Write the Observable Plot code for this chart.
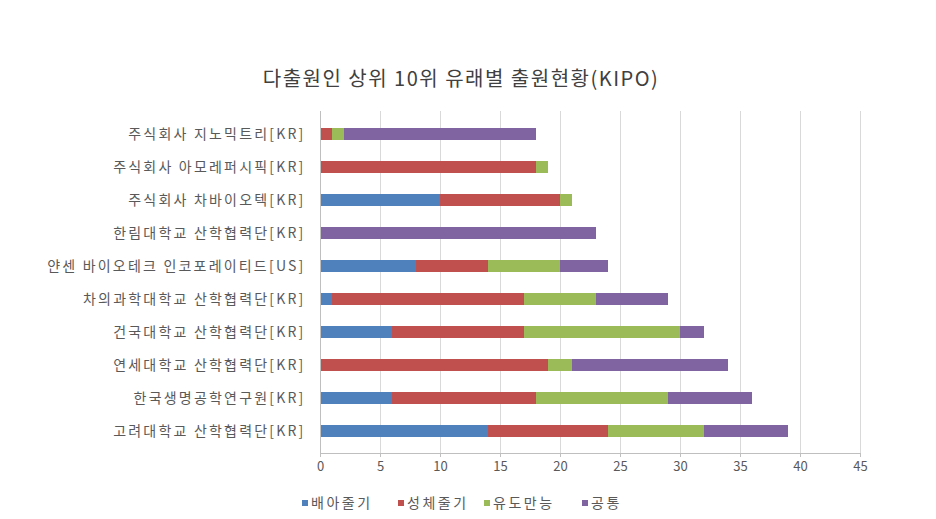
<!DOCTYPE html>
<html><head><meta charset="utf-8">
<script src="https://cdn.jsdelivr.net/npm/d3@7"></script>
<script src="https://cdn.jsdelivr.net/npm/@observablehq/plot@0.6"></script>
<style>
html,body{margin:0;padding:0;background:#fff;}
#wrap{position:relative;width:936px;height:519px;font-family:"Noto Sans CJK KR","Noto Sans",sans-serif;}
#title{position:absolute;left:0;top:64px;width:922px;text-align:center;font-size:20px;line-height:28px;color:#404040;letter-spacing:1.5px;}
#chart{position:absolute;left:0;top:100px;}
#legend{position:absolute;left:0;top:490px;width:936px;height:24px;font-size:14px;color:#595959;}
.li{position:absolute;top:0;line-height:24px;letter-spacing:2.5px;white-space:nowrap;}
.sw{display:inline-block;width:6px;height:6px;margin-right:3px;vertical-align:middle;position:relative;top:-1px;}
</style></head>
<body><div id="wrap"><div id="title">다출원인 상위 10위 유래별 출원현황(KIPO)</div><div id="chart"></div><div id="legend"></div></div>
<script>
const companies = ["주식회사 지노믹트리[KR]","주식회사 아모레퍼시픽[KR]","주식회사 차바이오텍[KR]","한림대학교 산학협력단[KR]","얀센 바이오테크 인코포레이티드[US]","차의과학대학교 산학협력단[KR]","건국대학교 산학협력단[KR]","연세대학교 산학협력단[KR]","한국생명공학연구원[KR]","고려대학교 산학협력단[KR]"];
const embryonic = [0,0,10,0,8,1,6,0,6,14];
const adult     = [1,18,10,0,6,16,11,19,12,10];
const ipsc      = [1,1,1,0,6,6,13,2,11,8];
const common    = [16,0,0,23,4,6,2,13,7,7];
const seriesNames = ["배아줄기","성체줄기","유도만능","공통"];
const seriesColors = ["#4F81BD","#C0504D","#9BBB59","#8064A2"];
const xTicks = [0,5,10,15,20,25,30,35,40,45];

const seriesValues = [embryonic, adult, ipsc, common];
const data = [];
companies.forEach((c,i)=>{
  seriesNames.forEach((s,j)=>{ data.push({company:c, series:s, value:seriesValues[j][i]}); });
});

const chart = Plot.plot({
  width: 936, height: 380,
  marginLeft: 320, marginRight: 76, marginTop: 11, marginBottom: 27,
  style: {fontFamily: '"Noto Sans CJK KR","Noto Sans",sans-serif', color: "#595959", background: "transparent"},
  x: {domain: [0,45], ticks: xTicks},
  y: {domain: companies, paddingInner: 0.64, paddingOuter: 0.4},
  color: {domain: seriesNames, range: seriesColors},
  marks: [
    Plot.gridX(xTicks.slice(1), {stroke: "#d9d9d9", strokeOpacity: 1}),
    Plot.barX(data, Plot.stackX({x: "value", y: "company", fill: "series", order: seriesNames})),
    Plot.ruleX([0], {stroke: "#bfbfbf"}),
    Plot.frame({anchor: "bottom", stroke: "#bfbfbf"}),
    Plot.axisX(xTicks, {tickSize: 4, tickPadding: 4, stroke: "#bfbfbf", fontSize: 13, fill: "#595959", label: null}),
    Plot.axisY({tickSize: 0, tickPadding: 15, fontSize: 14, fill: "#595959", label: null})
  ]
});
document.getElementById("chart").appendChild(chart);
chart.querySelectorAll("g[aria-label='y-axis tick label'] text").forEach(t=>t.setAttribute("letter-spacing","2.2"));

const legendX = [302, 398, 484, 582];
const legend = document.getElementById("legend");
seriesNames.forEach((s,j)=>{
  const d = document.createElement("div");
  d.className = "li";
  d.style.left = legendX[j] + "px";
  d.innerHTML = `<span class="sw" style="background:${seriesColors[j]}"></span>${s}`;
  legend.appendChild(d);
});
</script></body></html>
